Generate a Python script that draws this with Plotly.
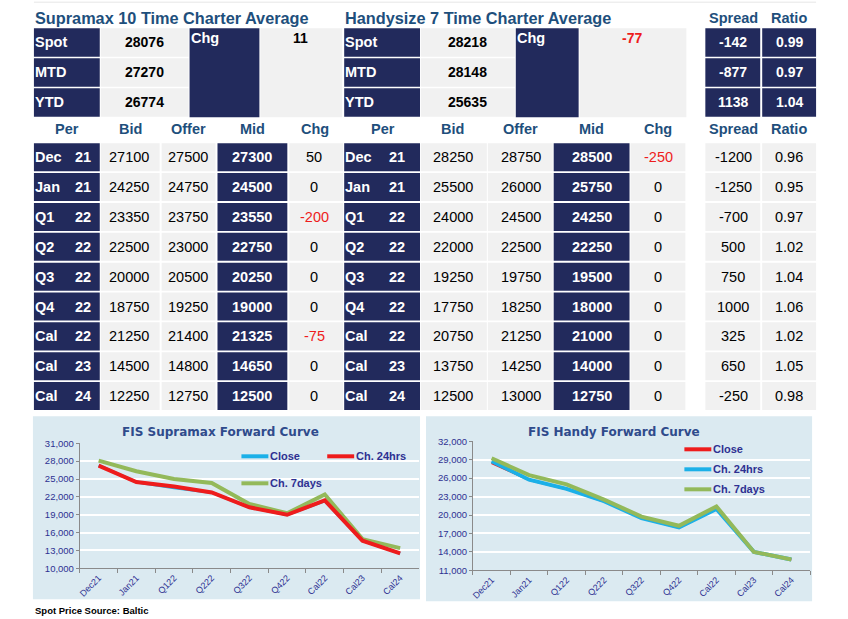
import plotly.graph_objects as go

# forward curve categories / table periods
categories = ['Dec21', 'Jan21', 'Q122', 'Q222', 'Q322', 'Q422', 'Cal22', 'Cal23', 'Cal24']
per_name = ['Dec', 'Jan', 'Q1', 'Q2', 'Q3', 'Q4', 'Cal', 'Cal', 'Cal']
per_year = ['21', '21', '22', '22', '22', '22', '22', '23', '24']

# supramax table
supra_bid = [27100, 24250, 23350, 22500, 20000, 18750, 21250, 14500, 12250]
supra_offer = [27500, 24750, 23750, 23000, 20500, 19250, 21400, 14800, 12750]
supra_mid = [27300, 24500, 23550, 22750, 20250, 19000, 21325, 14650, 12500]
supra_chg = [50, 0, -200, 0, 0, 0, -75, 0, 0]

# handysize table
handy_bid = [28250, 25500, 24000, 22000, 19250, 17750, 20750, 13750, 12500]
handy_offer = [28750, 26000, 24500, 22500, 19750, 18250, 21250, 14250, 13000]
handy_mid = [28500, 25750, 24250, 22250, 19500, 18000, 21000, 14000, 12750]
handy_chg = [-250, 0, 0, 0, 0, 0, 0, 0, 0]

fwd_spread = [-1200, -1250, -700, 500, 750, 1000, 325, 650, -250]
fwd_ratio = [0.96, 0.95, 0.97, 1.02, 1.04, 1.06, 1.02, 1.05, 0.98]

# spot block
spot_labels = ['Spot', 'MTD', 'YTD']
supra_spot = [28076, 27270, 26774]
supra_spot_chg = 11
handy_spot = [28218, 28148, 25635]
handy_spot_chg = -77
spot_spread = [-142, -877, 1138]
spot_ratio = [0.99, 0.97, 1.04]

# forward curves
supra_close = [27300, 24500, 23550, 22750, 20250, 19000, 21325, 14650, 12500]
supra_24h = [27250, 24500, 23750, 22750, 20250, 19000, 21400, 14650, 12500]
supra_7d = [28100, 26300, 25000, 24350, 20800, 19250, 22400, 14900, 13400]
handy_close = [28500, 25750, 24250, 22250, 19500, 18000, 21000, 14000, 12750]
handy_24h = [28750, 25750, 24250, 22250, 19500, 18000, 21000, 14000, 12750]
handy_7d = [29250, 26500, 25000, 22500, 19750, 18250, 21400, 14000, 12750]

W, H = 848, 619
NAVY = '#222a5c'
GREY = '#f1f1f1'
TITLE_BLUE = '#1e4f7c'
RED = '#ee1c1c'
CYAN = '#1bb0e8'
GREEN = '#93b95a'
LEG_BLUE = '#2e3192'
PANEL = '#dbeaf1'
FONT = 'Liberation Sans, Arial, sans-serif'

fig = go.Figure()


def px(x):
    return x / W


def py(y):
    # the snapshot comes out slightly squeezed vertically, undo that
    return 1 - (y - 4.8) / 0.982 / H


def cell(x0, x1, y0, y1, color):
    fig.add_shape(type='rect', xref='paper', yref='paper', layer='below',
                  x0=px(x0), x1=px(x1), y0=py(y1), y1=py(y0),
                  fillcolor=color, line_width=0)


def label(x, y, s, color='black', size=14, bold=False, anchor='center', family=FONT):
    if bold:
        s = '<b>' + s + '</b>'
    fig.add_annotation(x=px(x), y=py(y), xref='paper', yref='paper', text=s,
                       showarrow=False, xanchor=anchor, yanchor='middle',
                       font=dict(family=family, size=size, color=color))


def chg_color(v):
    return RED if v < 0 else 'black'


# --- titles
label(31, 17, 'Supramax 10 Time Charter Average', TITLE_BLUE, 16.3, True, 'left')
label(342, 17, 'Handysize 7 Time Charter Average', TITLE_BLUE, 16.3, True, 'left')
label(733, 17, 'Spread', TITLE_BLUE, 14.5, True)
label(789, 17, 'Ratio', TITLE_BLUE, 14.5, True)
fig.add_shape(type='line', xref='paper', yref='paper', x0=px(32), x1=px(816), y0=py(1), y1=py(1),
              line=dict(color='#e6e6e6', width=1))

# --- spot block
top_rows = [27 + i * 30 for i in range(3)]
cell(188, 258, 27, 116, NAVY)
cell(259, 341, 27, 116, GREY)
cell(515, 578, 27, 116, NAVY)
cell(579, 686, 27, 116, GREY)
label(187, 37, 'Chg', 'white', 14.5, True, 'left')
label(299, 37, str(supra_spot_chg), chg_color(supra_spot_chg), 14, True)
label(514, 37, 'Chg', 'white', 14.5, True, 'left')
label(631, 37, str(handy_spot_chg), chg_color(handy_spot_chg), 14, True)
for i, t in enumerate(top_rows):
    b = t + 28.5
    m = (t + b) / 2
    cell(32, 98, t, b, NAVY)
    cell(99, 187, t, b, GREY)
    cell(343, 419, t, b, NAVY)
    cell(420, 514, t, b, GREY)
    cell(705, 760, t, b, NAVY)
    cell(762, 816, t, b, NAVY)
    label(31, m, spot_labels[i], 'white', 14.5, True, 'left')
    label(143, m, str(supra_spot[i]), 'black', 14, True)
    label(342, m, spot_labels[i], 'white', 14.5, True, 'left')
    label(467, m, str(handy_spot[i]), 'black', 14, True)
    label(733, m, str(spot_spread[i]), 'white', 14, True)
    label(789, m, '%.2f' % spot_ratio[i], 'white', 14, True)

# --- forward table headers
for x, s in [(65, 'Per'), (129, 'Bid'), (187, 'Offer'), (251, 'Mid'), (314, 'Chg'),
             (382, 'Per'), (452, 'Bid'), (520, 'Offer'), (591, 'Mid'), (658, 'Chg'),
             (733, 'Spread'), (789, 'Ratio')]:
    label(x, 128, s, TITLE_BLUE, 14.5, True)

# --- forward table rows
for i in range(len(per_name)):
    t = 142 + i * 29.85
    b = t + 28
    m = (t + b) / 2
    # supramax
    cell(32, 98, t, b, NAVY)
    cell(99, 158, t, b, GREY)
    cell(160, 214, t, b, GREY)
    cell(216, 286, t, b, NAVY)
    cell(288, 342, t, b, GREY)
    label(31, m, per_name[i], 'white', 14.5, True, 'left')
    label(91, m, per_year[i], 'white', 14.5, True, 'right')
    label(127, m, str(supra_bid[i]), size=14.5)
    label(186, m, str(supra_offer[i]), size=14.5)
    label(251, m, str(supra_mid[i]), 'white', 14.5, True)
    label(313, m, str(supra_chg[i]), chg_color(supra_chg[i]), 14.5)
    # handysize
    cell(343, 419, t, b, NAVY)
    cell(420, 486, t, b, GREY)
    cell(487, 552, t, b, GREY)
    cell(553, 629, t, b, NAVY)
    cell(630, 685, t, b, GREY)
    label(342, m, per_name[i], 'white', 14.5, True, 'left')
    label(406, m, per_year[i], 'white', 14.5, True, 'right')
    label(452, m, str(handy_bid[i]), size=14.5)
    label(520, m, str(handy_offer[i]), size=14.5)
    label(591, m, str(handy_mid[i]), 'white', 14.5, True)
    label(658, m, str(handy_chg[i]), chg_color(handy_chg[i]), 14.5)
    # spread / ratio
    cell(705, 760, t, b, GREY)
    cell(762, 816, t, b, GREY)
    label(733, m, str(fwd_spread[i]), size=14.5)
    label(789, m, '%.2f' % fwd_ratio[i], size=14.5)

# --- chart panels
cell(31, 419, 415, 598, PANEL)
cell(425, 812, 415, 600, PANEL)
label(219, 431, 'FIS Supramax Forward Curve', '#2f4b8c', 12, True, family='DejaVu Sans')
label(613, 431, 'FIS Handy Forward Curve', '#2f4b8c', 12, True, family='DejaVu Sans')

# supramax curves
fig.add_trace(go.Scatter(x=categories, y=supra_close, mode='lines', name='Close',
                         line=dict(color=CYAN, width=3), xaxis='x', yaxis='y'))
fig.add_trace(go.Scatter(x=categories, y=supra_7d, mode='lines', name='Ch. 7days',
                         line=dict(color=GREEN, width=4), xaxis='x', yaxis='y'))
fig.add_trace(go.Scatter(x=categories, y=supra_24h, mode='lines', name='Ch. 24hrs',
                         line=dict(color=RED, width=4), xaxis='x', yaxis='y'))
# handy curves
fig.add_trace(go.Scatter(x=categories, y=handy_close, mode='lines', name='Close',
                         line=dict(color=RED, width=2.5), xaxis='x2', yaxis='y2'))
fig.add_trace(go.Scatter(x=categories, y=handy_24h, mode='lines', name='Ch. 24hrs',
                         line=dict(color=CYAN, width=4), xaxis='x2', yaxis='y2'))
fig.add_trace(go.Scatter(x=categories, y=handy_7d, mode='lines', name='Ch. 7days',
                         line=dict(color=GREEN, width=4), xaxis='x2', yaxis='y2'))

# hand drawn legends
for x0, y, s, c in [(240, 455, 'Close', CYAN), (326, 455, 'Ch. 24hrs', RED), (240, 482, 'Ch. 7days', GREEN),
                    (684, 448, 'Close', RED), (684, 468, 'Ch. 24hrs', CYAN), (684, 488, 'Ch. 7days', GREEN)]:
    fig.add_shape(type='line', xref='paper', yref='paper', x0=px(x0), x1=px(x0 + 27), y0=py(y), y1=py(y),
                  line=dict(color=c, width=4))
    label(x0 + 27, y, s, LEG_BLUE, 11, True, 'left')

# footer
label(31, 609, 'Spot Price Source: Baltic', 'black', 9.5, True, 'left')

xax = dict(type='category', categoryorder='array', categoryarray=categories, range=[-0.5, 8.5],
           tickson='boundaries', ticks='outside', ticklen=4, tickcolor='#8a8a8a',
           showline=True, linecolor='#8a8a8a', linewidth=1, showgrid=False, tickangle=-45,
           tickfont=dict(family=FONT, size=9, color=LEG_BLUE))
yax = dict(dtick=3000, tickformat=',', showgrid=True, gridcolor='white', gridwidth=1.5,
           showline=True, linecolor='#8a8a8a', linewidth=1, ticks='outside', ticklen=3,
           tickcolor='#8a8a8a', zeroline=False, tickfont=dict(family=FONT, size=9.5, color=LEG_BLUE))

fig.update_layout(
    width=W,
    height=H,
    margin=dict(l=0, r=0, t=0, b=0),
    paper_bgcolor='white',
    plot_bgcolor=PANEL,
    showlegend=False,
    xaxis=dict(xax, domain=[px(78), px(418)], anchor='y'),
    yaxis=dict(yax, domain=[py(567), py(442)], range=[10000, 31000], tick0=10000, anchor='x'),
    xaxis2=dict(xax, domain=[px(472), px(810)], anchor='y2'),
    yaxis2=dict(yax, domain=[py(569), py(440)], range=[11000, 32000], tick0=11000, anchor='x2'),
)

pin = ("document.body.style.margin='0';document.body.style.overflow='hidden';"
       "var g=document.getElementById('{plot_id}');"
       "g.style.position='fixed';g.style.left='0px';g.style.top='0px';")
fig.write_html('out.html', config={'displayModeBar': False}, post_script=pin)
